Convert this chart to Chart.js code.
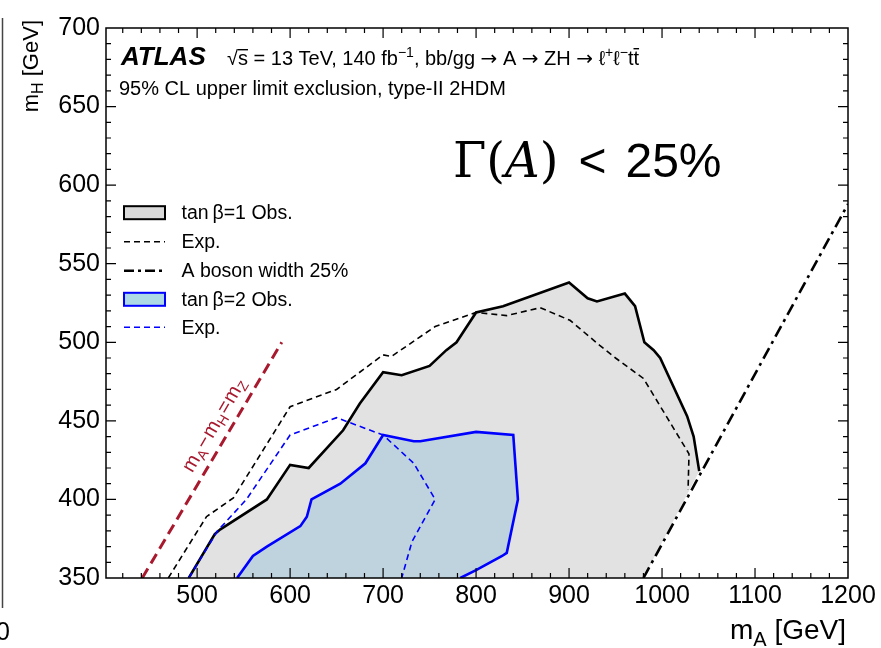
<!DOCTYPE html>
<html>
<head>
<meta charset="utf-8">
<script src="https://cdn.jsdelivr.net/npm/chart.js@4.4.0/dist/chart.umd.min.js"></script>
<style>
  body { margin: 0; background: #fff; }
  #wrap { width: 881px; height: 648px; position: relative; }
</style>
</head>
<body>
<div id="wrap"><canvas id="c"></canvas></div>
<script>
// tan beta = 1, observed exclusion contour (mA, mH in GeV)
const t1ObsX = [491, 519, 525, 575, 600, 620, 657, 675, 700, 720, 750, 768, 779, 800, 829, 900, 920, 930, 960, 971, 981, 991, 998, 1027, 1034, 1037, 1040];
const t1ObsY = [350, 378, 381, 400, 422, 420, 444, 461, 481, 479, 485, 495, 500, 519, 523, 538, 528, 526, 531, 523, 500, 495, 490, 453, 440, 429, 418];
// tan beta = 1, expected
const t1ExpX = [469, 510, 539, 600, 650, 700, 709, 756, 800, 833, 869, 901, 933, 950, 980, 1027, 1029, 1028];
const t1ExpY = [350, 389, 401, 459, 470, 492, 491, 510, 519, 517, 522, 514, 498, 490, 477, 431, 429, 406];
// tan beta = 2, observed
const t2ObsX = [543, 560, 575, 611, 618, 623, 654, 681, 700, 733, 740, 800, 840, 845, 833, 828, 800, 783];
const t2ObsY = [350, 364, 370, 383, 389, 400, 410, 423, 441, 437, 437, 443, 441, 400, 366, 364, 355, 350];
// tan beta = 2, expected
const t2ExpX = [491, 522, 553, 600, 650, 700, 733, 756, 731, 720];
const t2ExpY = [350, 380, 400, 441, 452, 441, 423, 400, 373, 350];
// A boson width 25% line
const widthX = [980, 1200];
const widthY = [350, 588];
// mA - mH = mZ line
const mzX = [441, 591];
const mzY = [350, 500];

const xTickLabels = [500, 600, 700, 800, 900, 1000, 1100, 1200];
const yTickLabels = [350, 400, 450, 500, 550, 600, 650, 700];
const legendLabels = ['tan\u2009\u03b2=1 Obs.', 'Exp.', 'A boson width 25%', 'tan\u2009\u03b2=2 Obs.', 'Exp.'];

const SANS = "'Liberation Sans', Arial, Helvetica, sans-serif";
const SERIF = "'DejaVu Serif', 'Liberation Serif', serif";
const ARROW = "'DejaVu Sans', sans-serif";

const pts = (xs, ys) => xs.map((x, i) => ({ x: x, y: ys[i] }));

function runsWidth(ctx, runs) {
  let w = 0;
  runs.forEach(r => { ctx.font = r.font; w += (r.gap || 0) + ctx.measureText(r.text).width; });
  return w;
}
function drawRuns(ctx, runs, x, y) {
  let cx = x;
  runs.forEach(r => {
    cx += r.gap || 0;
    ctx.font = r.font;
    ctx.fillText(r.text, cx, y + (r.dy || 0));
    const w = ctx.measureText(r.text).width;
    if (r.bar) ctx.fillRect(cx, y - r.bar, w, 1.4);
    cx += w;
  });
  return cx;
}

const decor = {
  id: 'decor',
  afterDatasetsDraw(chart) {
    const ctx = chart.ctx;
    const a = chart.chartArea;
    const xs = chart.scales.x, ys = chart.scales.y;
    ctx.save();
    // frame
    ctx.strokeStyle = '#000';
    ctx.lineWidth = 1.5;
    ctx.strokeRect(a.left, a.top, a.right - a.left, a.bottom - a.top);
    // ticks
    ctx.lineWidth = 1.2;
    ctx.beginPath();
    for (let v = 420; v < 1200; v += 20) {
      const px = xs.getPixelForValue(v);
      const len = v % 100 === 0 ? 10 : 5;
      ctx.moveTo(px, a.bottom); ctx.lineTo(px, a.bottom - len);
      ctx.moveTo(px, a.top); ctx.lineTo(px, a.top + len);
    }
    for (let v = 360; v < 700; v += 10) {
      const py = ys.getPixelForValue(v);
      const len = v % 50 === 0 ? 10 : 5;
      ctx.moveTo(a.left, py); ctx.lineTo(a.left + len, py);
      ctx.moveTo(a.right, py); ctx.lineTo(a.right - len, py);
    }
    ctx.stroke();

    ctx.fillStyle = '#000';
    ctx.textBaseline = 'alphabetic';
    ctx.textAlign = 'left';

    // header
    ctx.font = 'italic bold 26px ' + SANS;
    ctx.fillText('ATLAS', 121, 65);
    const f20 = '20px ' + SANS, f14 = '14px ' + SANS, fa = '20px ' + ARROW;
    drawRuns(ctx, [
      { text: '\u221a', font: f20 },
      { text: 's', font: f20, bar: 16 },
      { text: ' = 13 TeV, 140 fb', font: f20 },
      { text: '\u22121', font: f14, dy: -8 },
      { text: ', bb/gg ', font: f20 },
      { text: '\u2192', font: fa },
      { text: ' A ', font: f20 },
      { text: '\u2192', font: fa },
      { text: ' ZH ', font: f20 },
      { text: '\u2192', font: fa },
      { text: ' \u2113', font: f20 },
      { text: '+', font: f14, dy: -8 },
      { text: '\u2113', font: f20 },
      { text: '\u2212', font: f14, dy: -8 },
      { text: 't', font: f20 },
      { text: 't', font: f20, bar: 17 }
    ], 227, 65);
    ctx.font = f20;
    ctx.fillText('95% CL upper limit exclusion, type-II 2HDM', 119, 95);

    // width label
    drawRuns(ctx, [
      { text: '\u0393(', font: '48px ' + SERIF },
      { text: 'A', font: 'italic 48px ' + SERIF },
      { text: ')', font: '48px ' + SERIF },
      { text: '<', font: '48px ' + SANS, gap: 20 },
      { text: '25%', font: '48px ' + SANS, gap: 19 }
    ], 453, 177);

    // legend
    const rowY = [212.7, 241.7, 270.7, 299.3, 327.3];
    const x0 = 124, x1 = 165;
    ctx.fillStyle = '#d9d9d9';
    ctx.fillRect(x0, rowY[0] - 6.5, x1 - x0, 13);
    ctx.lineWidth = 2; ctx.strokeStyle = '#000';
    ctx.strokeRect(x0, rowY[0] - 6.5, x1 - x0, 13);
    ctx.fillStyle = '#add8e6';
    ctx.fillRect(x0, rowY[3] - 6.5, x1 - x0, 13);
    ctx.strokeStyle = '#0000ff';
    ctx.strokeRect(x0, rowY[3] - 6.5, x1 - x0, 13);
    const legLine = (y, color, w, dash) => {
      ctx.beginPath(); ctx.setLineDash(dash); ctx.lineWidth = w; ctx.strokeStyle = color;
      ctx.moveTo(x0, y); ctx.lineTo(x1, y); ctx.stroke(); ctx.setLineDash([]);
    };
    legLine(rowY[1], '#000', 1.6, [6, 4]);
    legLine(rowY[2], '#000', 2.5, [10, 4, 3, 4]);
    legLine(rowY[4], '#0000ff', 1.6, [6, 4]);
    ctx.fillStyle = '#000';
    ctx.font = '19.5px ' + SANS;
    ctx.textBaseline = 'middle';
    legendLabels.forEach((t, i) => ctx.fillText(t, 181.5, rowY[i] + 1));
    ctx.textBaseline = 'alphabetic';

    // mA - mH = mZ label along the red line
    const p1x = xs.getPixelForValue(mzX[0]), p1y = ys.getPixelForValue(mzY[0]);
    const p2x = xs.getPixelForValue(mzX[1]), p2y = ys.getPixelForValue(mzY[1]);
    const ang = Math.atan2(p2y - p1y, p2x - p1x);
    const f19 = '20px ' + SANS, f13 = '14px ' + SANS;
    const lab = [
      { text: 'm', font: f19 }, { text: 'A', font: f13, dy: 4 },
      { text: '\u2212', font: f19, gap: 1 },
      { text: 'm', font: f19, gap: 1 }, { text: 'H', font: f13, dy: 4 },
      { text: '=', font: f19, gap: 1 },
      { text: 'm', font: f19, gap: 1 }, { text: 'Z', font: f13, dy: 4 }
    ];
    ctx.save();
    ctx.translate(214, 425);
    ctx.rotate(ang);
    ctx.fillStyle = '#a8192e';
    drawRuns(ctx, lab, -runsWidth(ctx, lab) / 2, 6);
    ctx.restore();

    // axis titles
    const fx = '28px ' + SANS, fxs = '20px ' + SANS;
    const xt = [{ text: 'm', font: fx }, { text: 'A', font: fxs, dy: 7 }, { text: ' [GeV]', font: fx }];
    drawRuns(ctx, xt, 846 - runsWidth(ctx, xt), 639);
    const fy = '22px ' + SANS, fys = '16px ' + SANS;
    const yt = [{ text: 'm', font: fy }, { text: 'H', font: fys, dy: 5 }, { text: ' [GeV]', font: fy }];
    ctx.save();
    ctx.translate(38, 20 + runsWidth(ctx, yt));
    ctx.rotate(-Math.PI / 2);
    drawRuns(ctx, yt, 0, 0);
    ctx.restore();

    // fragment of the neighbouring panel at the left edge
    ctx.strokeStyle = '#444'; ctx.lineWidth = 1.5;
    ctx.beginPath(); ctx.moveTo(2.5, 18); ctx.lineTo(2.5, 608); ctx.stroke();
    ctx.font = '25px ' + SANS;
    ctx.fillText('0', -4, 640);
    ctx.restore();
  }
};

new Chart(document.getElementById('c'), {
  type: 'scatter',
  data: {
    datasets: [
      { data: pts(t2ExpX, t2ExpY), showLine: true, borderColor: '#0000ff', borderWidth: 1.6, borderDash: [6, 4], order: 1 },
      { data: pts(t1ObsX, t1ObsY), showLine: true, borderColor: '#000', borderWidth: 2.6, order: 2 },
      { data: pts(t1ExpX, t1ExpY), showLine: true, borderColor: '#000', borderWidth: 1.6, borderDash: [6, 4], order: 3 },
      { data: pts(widthX, widthY), showLine: true, borderColor: '#000', borderWidth: 2.6, borderDash: [12, 5, 3, 5], order: 4 },
      { data: pts(mzX, mzY), showLine: true, borderColor: '#a8192e', borderWidth: 3, borderDash: [11, 6], order: 5 },
      { data: pts(t2ObsX, t2ObsY), showLine: true, borderColor: '#0000ff', borderWidth: 2.6, fill: 'shape', backgroundColor: '#bfd3df', order: 6 },
      { data: pts(t1ObsX.concat([widthX[0]]), t1ObsY.concat([widthY[0]])), showLine: true, borderWidth: 0, borderColor: 'rgba(0,0,0,0)', fill: 'shape', backgroundColor: '#e2e2e2', order: 7 }
    ]
  },
  options: {
    responsive: true,
    maintainAspectRatio: false,
    animation: false,
    devicePixelRatio: 1,
    elements: { point: { radius: 0, hoverRadius: 0 }, line: { tension: 0 } },
    layout: { padding: { left: 0, right: 33, top: 28, bottom: 0 } },
    plugins: { legend: { display: false }, tooltip: { enabled: false } },
    scales: {
      x: {
        type: 'linear', min: 402, max: 1200,
        grid: { display: false, drawTicks: false },
        border: { display: false },
        afterBuildTicks: s => { s.ticks = xTickLabels.map(v => ({ value: v })); },
        afterFit: s => { s.height = 70; },
        ticks: { color: '#000', font: { family: SANS, size: 25 }, padding: 3, maxRotation: 0, autoSkip: false, callback: v => String(v) }
      },
      y: {
        type: 'linear', min: 350, max: 700,
        grid: { display: false, drawTicks: false },
        border: { display: false },
        afterBuildTicks: s => { s.ticks = yTickLabels.map(v => ({ value: v })); },
        afterFit: s => { s.width = 106; },
        ticks: { color: '#000', font: { family: SANS, size: 25 }, padding: 6, autoSkip: false, callback: v => String(v) }
      }
    }
  },
  plugins: [decor]
});
</script>
</body>
</html>
